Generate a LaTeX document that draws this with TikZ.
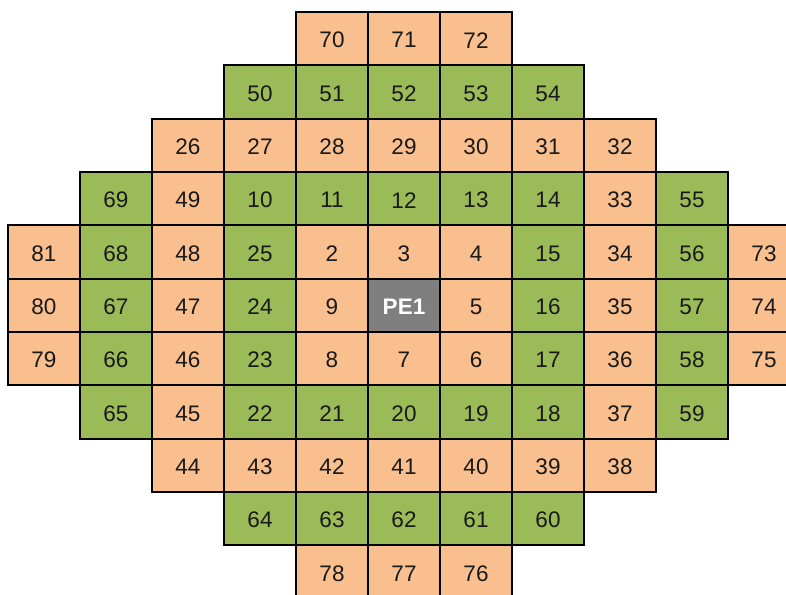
\documentclass[tikz,border=0pt]{standalone}
\usepackage{fontspec}
\setmainfont{Liberation Sans}
\definecolor{cor}{HTML}{F9BF8F}
\definecolor{cgr}{HTML}{9BBB59}
\definecolor{cgy}{HTML}{7F7F7F}
\begin{document}
\begin{tikzpicture}[x=1pt,y=-1pt,
  cell/.style={draw=black,line width=1.8pt,minimum width=72pt,minimum height=53.33pt,inner sep=0pt,outer sep=0pt,text=black!90},
  O/.style={cell,fill=cor},
  G/.style={cell,fill=cgr},
  Y/.style={cell,fill=cgy,text=white},
  lbl/.style={inner sep=0pt,font=\fontsize{22.5}{22.5}\selectfont,text=black!90},
  lblw/.style={lbl,text=white,font=\fontsize{22.5}{22.5}\selectfont\bfseries}]
\useasboundingbox (0,0) rectangle (786,594);
\clip (0,0) rectangle (786,594);
\foreach \r/\c/\t/\s/\l in {
 0/4/70/O/lbl,0/5/71/O/lbl,0/6/72/O/lbl,
 1/3/50/G/lbl,1/4/51/G/lbl,1/5/52/G/lbl,1/6/53/G/lbl,1/7/54/G/lbl,
 2/2/26/O/lbl,2/3/27/O/lbl,2/4/28/O/lbl,2/5/29/O/lbl,2/6/30/O/lbl,2/7/31/O/lbl,2/8/32/O/lbl,
 3/1/69/G/lbl,3/2/49/O/lbl,3/3/10/G/lbl,3/4/11/G/lbl,3/5/12/G/lbl,3/6/13/G/lbl,3/7/14/G/lbl,3/8/33/O/lbl,3/9/55/G/lbl,
 4/0/81/O/lbl,4/1/68/G/lbl,4/2/48/O/lbl,4/3/25/G/lbl,4/4/2/O/lbl,4/5/3/O/lbl,4/6/4/O/lbl,4/7/15/G/lbl,4/8/34/O/lbl,4/9/56/G/lbl,4/10/73/O/lbl,
 5/0/80/O/lbl,5/1/67/G/lbl,5/2/47/O/lbl,5/3/24/G/lbl,5/4/9/O/lbl,5/5/PE1/Y/lblw,5/6/5/O/lbl,5/7/16/G/lbl,5/8/35/O/lbl,5/9/57/G/lbl,5/10/74/O/lbl,
 6/0/79/O/lbl,6/1/66/G/lbl,6/2/46/O/lbl,6/3/23/G/lbl,6/4/8/O/lbl,6/5/7/O/lbl,6/6/6/O/lbl,6/7/17/G/lbl,6/8/36/O/lbl,6/9/58/G/lbl,6/10/75/O/lbl,
 7/1/65/G/lbl,7/2/45/O/lbl,7/3/22/G/lbl,7/4/21/G/lbl,7/5/20/G/lbl,7/6/19/G/lbl,7/7/18/G/lbl,7/8/37/O/lbl,7/9/59/G/lbl,
 8/2/44/O/lbl,8/3/43/O/lbl,8/4/42/O/lbl,8/5/41/O/lbl,8/6/40/O/lbl,8/7/39/O/lbl,8/8/38/O/lbl,
 9/3/64/G/lbl,9/4/63/G/lbl,9/5/62/G/lbl,9/6/61/G/lbl,9/7/60/G/lbl,
 10/4/78/O/lbl,10/5/77/O/lbl,10/6/76/O/lbl}
{
  \node[\s] (c\t) at ({8+72*\c+36},{12+53.33*\r+26.67}) {};
  \node[\l] (t\t) at ([yshift=-1.5pt]c\t.center) {\t};
}
\end{tikzpicture}
\end{document}
